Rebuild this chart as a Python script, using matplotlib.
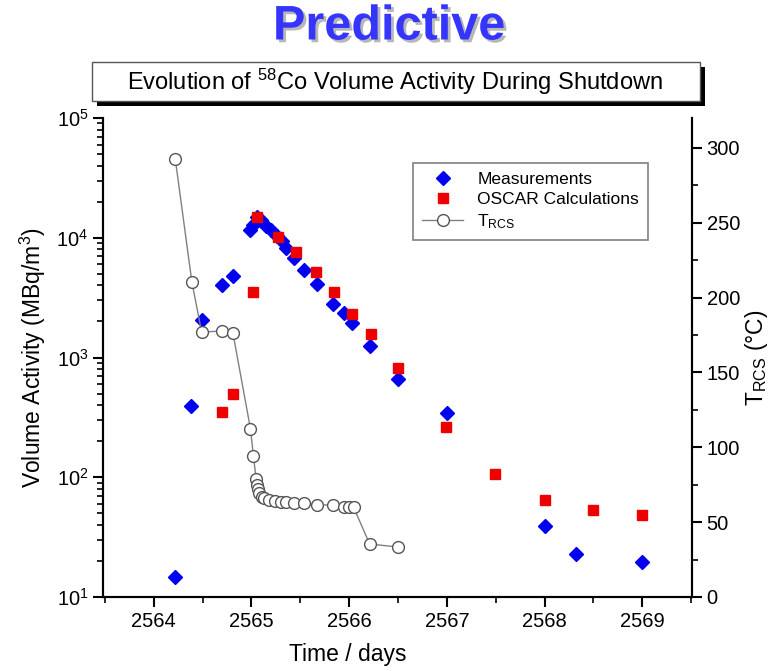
import matplotlib
matplotlib.use("Agg")
import matplotlib.pyplot as plt
import matplotlib.patheffects as pe
from matplotlib.patches import Rectangle
from matplotlib.ticker import MultipleLocator, LogLocator

plt.rcParams["font.family"] = ["Liberation Sans", "DejaVu Sans"]
plt.rcParams["mathtext.fontset"] = "custom"
plt.rcParams["mathtext.rm"] = "Liberation Sans"
plt.rcParams["mathtext.it"] = "Liberation Sans"
plt.rcParams["mathtext.default"] = "regular"

# measurements (blue diamonds)
meas_day = [2564.22, 2564.385, 2564.49, 2564.70, 2564.81, 2564.99, 2565.02, 2565.06,
            2565.10, 2565.15, 2565.20, 2565.26, 2565.31, 2565.35, 2565.44, 2565.54,
            2565.67, 2565.83, 2565.95, 2566.03, 2566.21, 2566.50, 2567.0, 2568.0,
            2568.32, 2569.0]
meas_val = [14.7, 390, 2070, 4050, 4800, 11500, 12900, 15000,
            14100, 12600, 11500, 10400, 9450, 8250, 6800, 5400,
            4100, 2800, 2370, 1960, 1240, 660, 347, 39,
            22.8, 19.6]

# OSCAR calculations (red squares)
oscar_day = [2564.70, 2564.81, 2565.02, 2565.06, 2565.27, 2565.46, 2565.66, 2565.85,
             2566.03, 2566.22, 2566.50, 2566.99, 2567.49, 2568.0, 2568.5, 2569.0]
oscar_val = [350, 500, 3500, 15000, 10200, 7600, 5200, 3550,
             2330, 1560, 815, 261, 106, 64, 53, 48]

# T_RCS (open circles, right axis)
trcs_day = [2564.22, 2564.39, 2564.49, 2564.70, 2564.81, 2564.99, 2565.02, 2565.048,
            2565.058, 2565.069, 2565.082, 2565.106, 2565.133, 2565.184, 2565.236,
            2565.30, 2565.355, 2565.44, 2565.54, 2565.67, 2565.83, 2565.95, 2566.00,
            2566.045, 2566.21, 2566.50]
trcs_val = [292.6, 210.4, 177, 177.7, 176.4, 112.2, 94.2, 78.6,
            74.8, 71.9, 69.3, 67, 65.9, 64.8, 64.3,
            63.7, 63.3, 62.6, 62.6, 61.5, 61.5, 60.3, 60,
            60, 35.4, 33.4]

fig = plt.figure(figsize=(7.76, 6.71), dpi=100)
ax = fig.add_axes([103 / 776, 1 - 597 / 671, 589 / 776, 479 / 671])
ax2 = ax.twinx()

ax.plot(meas_day, meas_val, "D", color="#0000ee", markersize=7.5, mec="#0000ee",
        linestyle="none", label="Measurements")
ax.plot(oscar_day, oscar_val, "s", color="#ee0000", markersize=7, mec="#ee0000",
        linestyle="none", label="OSCAR Calculations")
ax2.plot(trcs_day, trcs_val, "-o", color="#808080", lw=1, markersize=8.5,
         mfc="white", mec="#555555", mew=1, label="T$_{RCS}$")

ax.set_yscale("log")
ax.set_ylim(10, 1e5)
ax.set_xlim(2563.48, 2569.51)
ax2.set_ylim(0, 320)

ax.xaxis.set_major_locator(MultipleLocator(1))
ax.xaxis.set_minor_locator(MultipleLocator(0.5))
ax.yaxis.set_minor_locator(LogLocator(base=10, subs=range(2, 10)))
ax2.yaxis.set_major_locator(MultipleLocator(50))
ax2.yaxis.set_minor_locator(MultipleLocator(25))

for a in (ax, ax2):
    a.spines["top"].set_visible(False)
    for s in a.spines.values():
        s.set_linewidth(1.5)
    a.tick_params(which="major", direction="out", length=7, width=1.5, labelsize=14.5)
    a.tick_params(which="minor", direction="out", length=4, width=1.2)
ax.tick_params(axis="x", which="both", top=False)

ax.set_xlabel("Time / days", fontsize=16.5)
ax.xaxis.set_label_coords((348 - 103) / 589, -0.095)
ax.set_ylabel("Volume Activity (MBq/m$^3$)", fontsize=16.5, labelpad=6)
ax2.set_ylabel("T$_{RCS}$ (°C)", fontsize=16.5, labelpad=2)

h1, l1 = ax.get_legend_handles_labels()
h2, l2 = ax2.get_legend_handles_labels()
leg = ax2.legend(h1 + h2, l1 + l2, loc="upper left",
                 bbox_to_anchor=((413 - 103) / 589, 1 - (163 - 118) / 479),
                 borderaxespad=0, fontsize=12.5, fancybox=False, framealpha=1,
                 edgecolor="#808080", handlelength=2.4, labelspacing=0.3,
                 borderpad=0.5)
leg.get_frame().set_linewidth(1.2)

# title box with black shadow
fig.add_artist(Rectangle((97 / 776, 1 - 106 / 671), 608 / 776, 39 / 671,
                         transform=fig.transFigure, facecolor="black", edgecolor="none"))
fig.add_artist(Rectangle((92 / 776, 1 - 101 / 671), 608 / 776, 39 / 671,
                         transform=fig.transFigure, facecolor="white",
                         edgecolor="#555555", lw=1))
fig.text(395 / 776, 1 - 82 / 671, "Evolution of $^{58}$Co Volume Activity During Shutdown",
         ha="center", va="center", fontsize=17)

fig.text(389 / 776, 1 - 27 / 671, "Predictive", ha="center", va="center",
         fontsize=35, fontweight="bold", color="#3535ff",
         path_effects=[pe.SimplePatchShadow(offset=(2, -2), shadow_rgbFace="#888888",
                                            alpha=0.6), pe.Normal()])

fig.savefig("out.png", dpi=100)
